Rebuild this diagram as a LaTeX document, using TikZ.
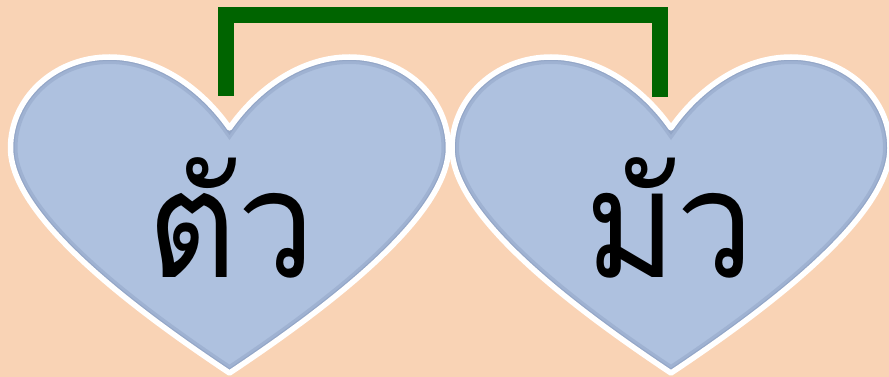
\documentclass[tikz,border=0pt]{standalone}
\usepackage{fontspec}
\newfontfamily\thaifont[Script=Thai]{Loma}
\definecolor{bg}{HTML}{F9D3B5}
\definecolor{heartfill}{HTML}{AEC1DF}
\definecolor{heartedge}{HTML}{7F92B4}
\definecolor{linkgreen}{HTML}{006400}
\def\heartshape{(0,0) .. controls (-28,-40) and (-72,-71) .. (-120,-71)
  .. controls (-175,-71) and (-219,-30) .. (-219,20)
  .. controls (-219,90) and (-90,185) .. (0,245)
  .. controls (90,185) and (219,90) .. (219,20)
  .. controls (219,-30) and (175,-71) .. (120,-71)
  .. controls (72,-71) and (28,-40) .. (0,0) -- cycle}
\tikzset{
  heart/.pic={
    \fill[heartfill] \heartshape;
    \begin{scope}
      \clip \heartshape;
      \draw[heartedge, line width=14pt, opacity=.3] \heartshape;
      \draw[heartedge, line width=8pt, opacity=.35] \heartshape;
    \end{scope}
    \draw[white, line width=5.5pt, line join=round] \heartshape;
  },
  word/.style={font=\thaifont\fontsize{150}{150}\selectfont, inner sep=0pt, anchor=base, xscale=0.92},
  link/.style={linkgreen, line width=16pt}
}
\begin{document}
\begin{tikzpicture}[x=1pt, y=-1pt]
  \fill[bg] (0,0) rectangle (889,377);
  \useasboundingbox (0,0) rectangle (889,377);
  \pic at (229.5,128) {heart};
  \pic at (671,128) {heart};
  \node[word] (w1) at (231,277) {ตัว};
  \node[word] (w2) at (670,277) {มัว};
  \coordinate (L) at (226,96);
  \coordinate (R) at (660,97);
  \draw[link] (L) -- ++(0,-81) -| (R);
\end{tikzpicture}
\end{document}
